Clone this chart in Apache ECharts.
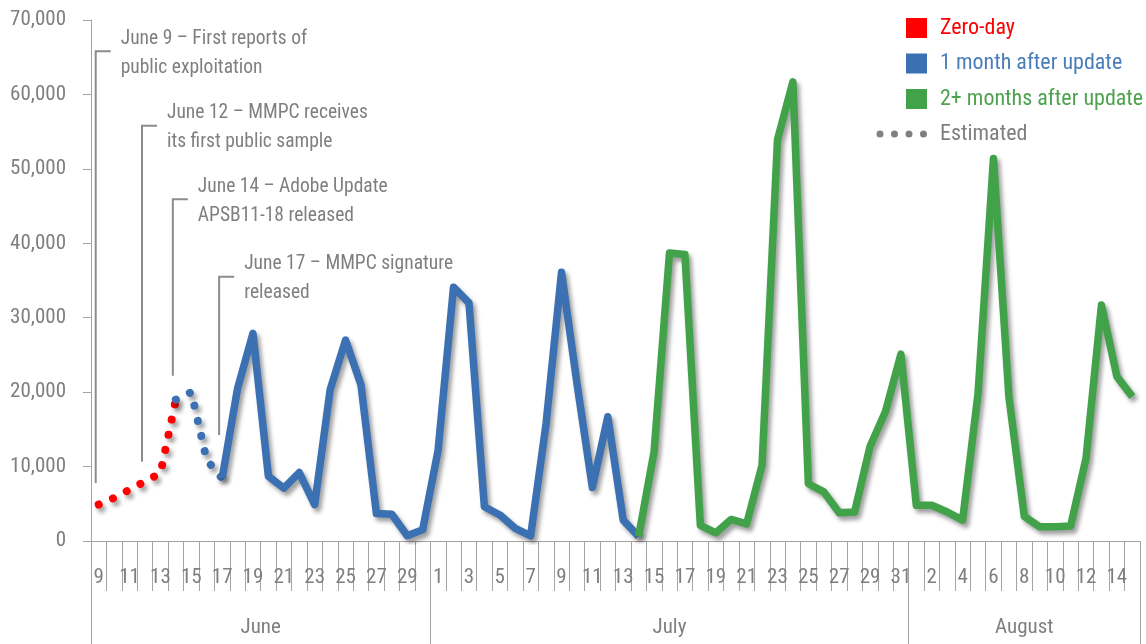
<!DOCTYPE html>
<html>
<head>
<meta charset="utf-8">
<script src="https://cdn.jsdelivr.net/npm/echarts@6/dist/echarts.min.js"></script>
<style>
  html, body { margin: 0; padding: 0; background: #ffffff; }
  #chart { width: 1146px; height: 644px; }
</style>
</head>
<body>
<div id="chart"></div>
<script>
// Days shown on the timeline, month by month
const juneDays = [9, 10, 11, 12, 13, 14, 15, 16, 17, 18, 19, 20, 21, 22, 23, 24, 25, 26, 27, 28, 29, 30];
const julyDays = [1, 2, 3, 4, 5, 6, 7, 8, 9, 10, 11, 12, 13, 14, 15, 16, 17, 18, 19, 20, 21, 22, 23, 24, 25, 26, 27, 28, 29, 30, 31];
const augustDays = [1, 2, 3, 4, 5, 6, 7, 8, 9, 10, 11, 12, 13, 14, 15];
const monthNames = ['June', 'July', 'August'];

// Daily detections (June 9 - June 14), zero-day period, estimated
const zeroDay = [4900, 5800, 6900, 8000, 9100, 19000];
// June 14 - June 17, estimated
const estimated = [19000, 20000, 10900, 8400];
// June 17 - July 14
const oneMonth = [8400, 20500, 27900, 8700, 7100, 9200, 4900, 20300, 27000, 21000, 3700, 3600, 700, 1500,
  12200, 34100, 32000, 4600, 3500, 1700, 700, 15800, 36100, 21200, 7200, 16700, 2800, 600];
// July 14 - August 15
const twoPlusMonths = [600, 12000, 38700, 38500, 2100, 1100, 2900, 2300, 10200, 53900, 61700, 7700, 6600, 3800,
  3900, 12700, 17400, 25100, 4800, 4800, 3900, 2800, 19800, 51400, 19400, 3300, 1900, 1900, 2000, 11100,
  31700, 22100, 19400];

// Timeline events: day index, line foot value, bracket value, text
const noteDay = [0, 3, 5, 8];
const noteFoot = [7800, 10650, 22200, 14250];
const noteTop = [65800, 55800, 45900, 35500];
const noteText = [
  ['June 9 \u2013 First reports of', 'public exploitation'],
  ['June 12 \u2013 MMPC receives', 'its first public sample'],
  ['June 14 \u2013 Adobe Update', 'APSB11-18 released'],
  ['June 17 \u2013 MMPC signature', 'released']
];

const FONT = "'Roboto Condensed', 'DejaVu Sans Condensed', sans-serif";
const GREY = '#7f7f7f';
const AXIS = '#a3a3a3';
const RED = '#ff0000';
const BLUE = '#3b70b3';
const GREEN = '#41a24a';

const months = [
  { name: monthNames[0], days: juneDays, key: 'Jun' },
  { name: monthNames[1], days: julyDays, key: 'Jul' },
  { name: monthNames[2], days: augustDays, key: 'Aug' }
];
const categories = [];
const monthEdges = [0];
const monthMids = [];
months.forEach(m => {
  const start = categories.length;
  m.days.forEach(d => categories.push(m.key + ' ' + d));
  monthEdges.push(categories.length);
  monthMids.push((start + categories.length) / 2);
});
const total = categories.length;

function placed(start, values) {
  const out = new Array(total).fill(null);
  values.forEach((v, i) => { out[start + i] = v; });
  return out;
}

const shadow = {
  shadowColor: 'rgba(0,0,0,0.38)',
  shadowBlur: 4,
  shadowOffsetX: 3,
  shadowOffsetY: 4
};

const legendText = { fontFamily: FONT, fontSize: 22, lineHeight: 20, padding: [0, 0, 0, 8] };

const chart = echarts.init(document.getElementById('chart'), null, { renderer: 'canvas' });

chart.setOption({
  animation: false,
  backgroundColor: '#ffffff',
  textStyle: { fontFamily: FONT },
  grid: { left: 91, right: 6, top: 20, bottom: 103, containLabel: false, outerBoundsMode: 'none' },
  legend: [
    {
      orient: 'vertical',
      left: 906,
      top: 17,
      padding: 0,
      itemWidth: 21,
      itemHeight: 20,
      itemGap: 13.5,
      icon: 'rect',
      selectedMode: false,
      itemStyle: { borderWidth: 0 },
      textStyle: legendText,
      data: [
        { name: 'Zero-day', textStyle: { color: RED } },
        { name: '1 month after update', textStyle: { color: '#4a7ebb' } },
        { name: '2+ months after update', textStyle: { color: '#4ea24f' } }
      ]
    },
    {
      orient: 'vertical',
      left: 876.5,
      top: 123,
      padding: 0,
      itemWidth: 50.5,
      itemHeight: 7,
      selectedMode: false,
      icon: 'path://M0,3.5a3.5,3.5 0 1,0 7,0a3.5,3.5 0 1,0 -7,0zM14.5,3.5a3.5,3.5 0 1,0 7,0a3.5,3.5 0 1,0 -7,0zM29,3.5a3.5,3.5 0 1,0 7,0a3.5,3.5 0 1,0 -7,0zM43.5,3.5a3.5,3.5 0 1,0 7,0a3.5,3.5 0 1,0 -7,0z',
      itemStyle: { borderWidth: 0, color: '#808080' },
      textStyle: Object.assign({ color: GREY }, legendText),
      data: [{ name: 'Estimated', itemStyle: { color: '#808080' } }]
    }
  ],
  xAxis: [
    {
      type: 'category',
      data: categories,
      boundaryGap: true,
      axisLine: { show: true, lineStyle: { color: AXIS, width: 1 } },
      axisTick: { show: true, interval: 0, length: 50, lineStyle: { color: AXIS, width: 1 } },
      axisLabel: {
        interval: 1,
        margin: 26,
        color: GREY,
        fontSize: 21,
        fontFamily: FONT,
        formatter: v => v.split(' ')[1]
      },
      splitLine: { show: false }
    },
    {
      type: 'value',
      min: 0,
      max: total,
      position: 'bottom',
      axisLine: { show: false },
      axisTick: { show: true, customValues: monthEdges, length: 103, lineStyle: { color: AXIS, width: 1 } },
      axisLabel: {
        customValues: monthMids,
        margin: 76,
        color: GREY,
        fontSize: 21,
        fontFamily: FONT,
        formatter: v => monthNames[monthMids.indexOf(v)] || ''
      },
      splitLine: { show: false }
    }
  ],
  yAxis: {
    type: 'value',
    min: 0,
    max: 70000,
    interval: 10000,
    axisLine: { show: true, lineStyle: { color: AXIS, width: 1 } },
    axisTick: { show: true, length: 8, lineStyle: { color: AXIS, width: 1 } },
    axisLabel: {
      margin: 25,
      color: GREY,
      fontSize: 21,
      fontFamily: FONT,
      formatter: v => v.toLocaleString('en-US')
    },
    splitLine: { show: false }
  },
  series: [
    {
      name: 'Timeline notes',
      type: 'custom',
      xAxisIndex: 0,
      yAxisIndex: 0,
      z: 1,
      clip: false,
      data: noteDay.map((d, i) => [d, noteFoot[i], noteTop[i]]),
      renderItem: function (params, api) {
        const foot = api.coord([api.value(0), api.value(1)]);
        const top = api.coord([api.value(0), api.value(2)]);
        const x = foot[0] - 3;
        return {
          type: 'group',
          children: [
            {
              type: 'polyline',
              shape: { points: [[x, foot[1]], [x, top[1]], [x + 15, top[1]]] },
              style: { stroke: '#8c8c8c', lineWidth: 2, fill: null }
            },
            {
              type: 'text',
              x: x + 25,
              y: top[1] + 2,
              style: {
                text: noteText[params.dataIndex].join('\n'),
                fill: GREY,
                font: '19.5px ' + FONT,
                align: 'left',
                verticalAlign: 'middle',
                lineHeight: 29
              }
            }
          ]
        };
      }
    },
    {
      name: 'Zero-day',
      type: 'line',
      z: 3,
      data: placed(0, zeroDay),
      showSymbol: false,
      color: RED,
      lineStyle: Object.assign({ color: RED, width: 8, type: [0.01, 15.5], cap: 'round' }, shadow)
    },
    {
      name: 'Estimated',
      type: 'line',
      z: 3,
      data: placed(5, estimated),
      showSymbol: false,
      color: BLUE,
      lineStyle: Object.assign({ color: BLUE, width: 8, type: [0.01, 15.5], cap: 'round' }, shadow)
    },
    {
      name: '1 month after update',
      type: 'line',
      z: 3,
      data: placed(8, oneMonth),
      showSymbol: false,
      color: BLUE,
      lineStyle: Object.assign({ color: BLUE, width: 7.5, join: 'round' }, shadow)
    },
    {
      name: '2+ months after update',
      type: 'line',
      z: 3,
      data: placed(35, twoPlusMonths),
      showSymbol: false,
      color: GREEN,
      lineStyle: Object.assign({ color: GREEN, width: 7.5, join: 'round' }, shadow)
    }
  ]
});
</script>
</body>
</html>
